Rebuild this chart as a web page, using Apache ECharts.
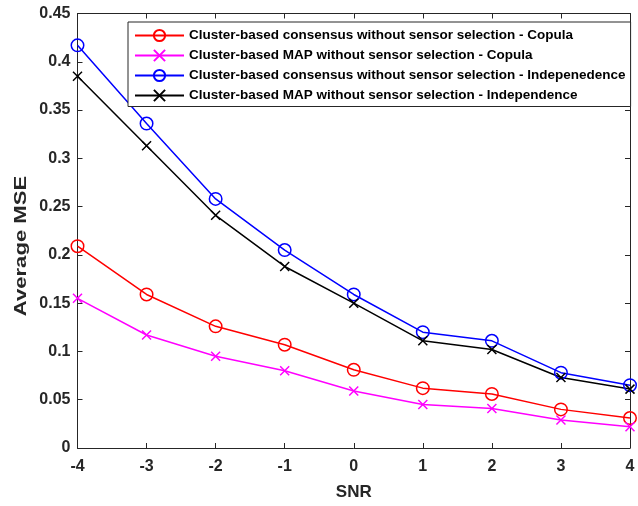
<!DOCTYPE html>
<html><head><meta charset="utf-8">
<script src="https://cdn.jsdelivr.net/npm/echarts@6/dist/echarts.min.js"></script>
<style>html,body{margin:0;padding:0;background:#fff}#c{width:638px;height:506px}</style>
</head><body><div id="c"></div>
<script>
var snr = [-4, -3, -2, -1, 0, 1, 2, 3, 4];
var consensusCopula = [0.209, 0.159, 0.126, 0.107, 0.081, 0.062, 0.056, 0.040, 0.031];
var mapCopula = [0.155, 0.117, 0.095, 0.080, 0.059, 0.045, 0.041, 0.029, 0.022];
var consensusIndep = [0.417, 0.336, 0.258, 0.205, 0.159, 0.120, 0.111, 0.078, 0.065];
var mapIndep = [0.385, 0.313, 0.241, 0.188, 0.150, 0.111, 0.102, 0.073, 0.061];
var names = [
  'Cluster-based consensus without sensor selection - Copula',
  'Cluster-based MAP without sensor selection - Copula',
  'Cluster-based consensus without sensor selection - Indepenedence',
  'Cluster-based MAP without sensor selection - Independence'
];
var xPath = 'path://M0,0L10,10M10,0L0,10';
var FONT = 'Liberation Sans, Arial, sans-serif';
function pts(arr){ return snr.map(function(x,i){return [x, arr[i]];}); }
function mk(name, arr, color, sym, size){
  return {
    name: name, type: 'line', data: pts(arr), symbol: sym, symbolSize: size,
    showAllSymbol: true,
    lineStyle: {color: color, width: 1.5},
    itemStyle: {color: sym === 'circle' ? 'rgba(0,0,0,0)' : color, borderColor: color, borderWidth: 1.5},
    emphasis: {disabled: true}, animation: false, z: 3
  };
}
var axisCol = '#262626';
var chart = echarts.init(document.getElementById('c'));
var lab = {color: axisCol, fontFamily: FONT, fontWeight: 'bold', fontSize: 16};
chart.setOption({
  animation: false,
  grid: {left: 77.5, right: 8, top: 13.5, bottom: 56, containLabel: false},
  graphic: [{
    type: 'text', x: 21.5, y: 246, rotation: Math.PI / 2, scaleX: 1.3,
    style: {text: 'Average MSE', fill: axisCol, font: 'bold 17px ' + FONT, align: 'center', verticalAlign: 'middle'}
  }],
  xAxis: [{
    type: 'value', min: -4, max: 4, interval: 1, position: 'bottom',
    name: 'SNR', nameLocation: 'middle', nameGap: 36,
    nameTextStyle: {color: axisCol, fontFamily: FONT, fontWeight: 'bold', fontSize: 17},
    axisLine: {onZero: false, lineStyle: {color: axisCol, width: 1}},
    axisTick: {inside: true, length: 5, lineStyle: {color: axisCol}},
    axisLabel: Object.assign({margin: 11}, lab),
    splitLine: {show: false}
  }, {
    type: 'value', min: -4, max: 4, interval: 1, position: 'top',
    axisLine: {onZero: false, lineStyle: {color: axisCol, width: 1}},
    axisTick: {inside: true, length: 5, lineStyle: {color: axisCol}},
    axisLabel: {show: false}, splitLine: {show: false}
  }],
  yAxis: [{
    type: 'value', min: 0, max: 0.45, interval: 0.05, position: 'left',
    axisLine: {onZero: false, lineStyle: {color: axisCol, width: 1}},
    axisTick: {inside: true, length: 5, lineStyle: {color: axisCol}},
    axisLabel: Object.assign({margin: 7, formatter: function(v){return String(+v.toFixed(2));}}, lab),
    splitLine: {show: false}
  }, {
    type: 'value', min: 0, max: 0.45, interval: 0.05, position: 'right',
    axisLine: {onZero: false, lineStyle: {color: axisCol, width: 1}},
    axisTick: {inside: true, length: 5, lineStyle: {color: axisCol}},
    axisLabel: {show: false}, splitLine: {show: false}
  }],
  legend: {
    orient: 'vertical', left: 128, top: 22,
    data: names,
    itemWidth: 49, itemHeight: 14, itemGap: 6,
    padding: [6.5, 5, 4, 6],
    backgroundColor: '#fff', borderColor: axisCol, borderWidth: 1,
    textStyle: {color: '#000', fontFamily: FONT, fontWeight: 'bold', fontSize: 13.5, lineHeight: 14},
    selectedMode: false, z: 10
  },
  series: [
    mk(names[0], consensusCopula, '#ff0000', 'circle', 12.5),
    mk(names[1], mapCopula, '#ff00ff', xPath, 9),
    mk(names[2], consensusIndep, '#0000ff', 'circle', 12.5),
    mk(names[3], mapIndep, '#000000', xPath, 9)
  ]
});
</script></body></html>
